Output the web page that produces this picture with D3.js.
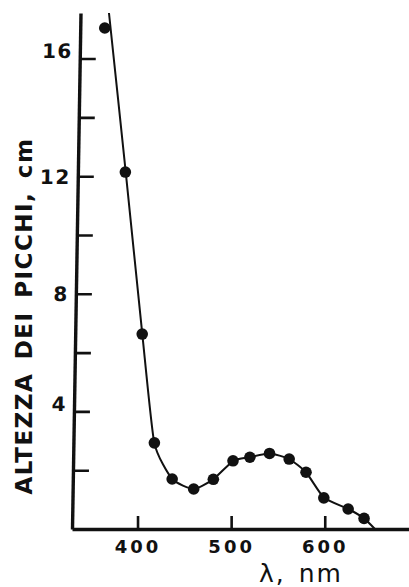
<!DOCTYPE html>
<html>
<head>
<meta charset="utf-8">
<script src="https://cdn.jsdelivr.net/npm/d3@7"></script>
<style>
  html, body { margin: 0; padding: 0; background: #fff; }
  svg { display: block; }
  text { fill: #111; }
</style>
</head>
<body>
<svg id="chart" width="409" height="587"></svg>
<script>
// Measured peak heights (cm) against wavelength (nm)
const wavelengthNm = [365, 387, 405, 418, 437, 460, 481, 502, 520, 541, 562, 580, 599, 625, 642];
const peakHeightCm = [17.04, 12.14, 6.63, 2.93, 1.70, 1.36, 1.69, 2.32, 2.44, 2.57, 2.38, 1.93, 1.06, 0.68, 0.36];

// Hand-fitted smooth curve drawn through the measurements
const curveNm = [369.5, 387.4, 405.1, 417.9, 437.1, 460, 480.9, 502.3, 519.6, 541, 562.1, 580, 599.2, 625.2, 641.9, 653.6];
const curveCm = [17.55, 12.14, 6.63, 2.93, 1.70, 1.36, 1.69, 2.32, 2.44, 2.57, 2.38, 1.93, 1.06, 0.68, 0.36, 0.0];

// Axis ticks
const xTickValues = [400, 500, 600];
const yTickValues = [2, 4, 6, 8, 10, 12, 14, 16];
const yLabelValues = [4, 8, 12, 16];

const xTitle = "λ, nm";
const yTitle = "ALTEZZA DEI PICCHI, cm";

const svg = d3.select("#chart");
const ink = "#111";

const x = d3.scaleLinear().domain([330, 690]).range([72, 409]);
const y = d3.scaleLinear().domain([0, 17.55]).range([529, 13]);

// The vertical axis leans slightly to the right towards its top
const axisTopX = 80.5, axisBottomX = 72;
const lean = (axisBottomX - axisTopX) / (y.range()[0] - y.range()[1]);
const leanDeg = Math.atan(lean) * 180 / Math.PI;

// ---- y axis ----
const yAxis = d3.axisLeft(y)
  .tickValues(yTickValues)
  .tickSizeInner(-16)
  .tickSizeOuter(0)
  .tickPadding(7)
  .tickFormat(d => yLabelValues.includes(d) ? d3.format("d")(d) : "");

const gy = svg.append("g")
  .attr("transform", `translate(${axisBottomX - lean * y.range()[0]},0) skewX(${leanDeg})`)
  .call(yAxis);
gy.select(".domain").attr("stroke", ink).attr("stroke-width", 3.4);
gy.selectAll(".tick line").attr("stroke", ink).attr("stroke-width", 2.6);
gy.selectAll(".tick text")
  .attr("font-family", "DejaVu Sans, sans-serif")
  .attr("font-weight", "bold")
  .attr("font-size", 20)
  .attr("letter-spacing", 1.5)
  .attr("fill", ink)
  .attr("dy", d => (d === 16 || d === 4) ? "-0.05em" : "0.36em");

// ---- x axis ----
const xAxis = d3.axisBottom(x)
  .tickValues(xTickValues)
  .tickSizeInner(-13)
  .tickSizeOuter(0)
  .tickPadding(11)
  .tickFormat(d3.format("d"));

const gx = svg.append("g")
  .attr("transform", `translate(0,${y(0)})`)
  .call(xAxis);
gx.select(".domain").attr("stroke", ink).attr("stroke-width", 3.4);
gx.selectAll(".tick line").attr("stroke", ink).attr("stroke-width", 2.6);
gx.selectAll(".tick text")
  .attr("font-family", "DejaVu Sans, sans-serif")
  .attr("font-weight", "bold")
  .attr("font-size", 18)
  .attr("letter-spacing", 3)
  .attr("fill", ink);

// ---- fitted curve ----
const curvePts = curveNm.map((v, i) => [v, curveCm[i]]);
const line = d3.line()
  .x(d => x(d[0]))
  .y(d => y(d[1]))
  .curve(d3.curveCardinal.tension(0.45));

svg.append("path")
  .datum(curvePts)
  .attr("d", line)
  .attr("fill", "none")
  .attr("stroke", ink)
  .attr("stroke-width", 2);

// ---- measured points ----
svg.append("g")
  .selectAll("circle")
  .data(wavelengthNm.map((v, i) => [v, peakHeightCm[i]]))
  .join("circle")
  .attr("cx", d => x(d[0]))
  .attr("cy", d => y(d[1]))
  .attr("r", 5.8)
  .attr("fill", ink);

// ---- titles ----
svg.append("text")
  .attr("x", 301)
  .attr("y", 582)
  .attr("text-anchor", "middle")
  .attr("font-family", "DejaVu Sans, sans-serif")
  .attr("font-size", 25)
  .attr("letter-spacing", 2)
  .attr("word-spacing", 3)
  .text(xTitle);

svg.append("text")
  .attr("transform", "translate(32,316) rotate(-90)")
  .attr("text-anchor", "middle")
  .attr("font-family", "DejaVu Sans, sans-serif")
  .attr("font-weight", "bold")
  .attr("font-size", 23)
  .attr("letter-spacing", 1.5)
  .attr("word-spacing", 4)
  .text(yTitle);
</script>
</body>
</html>
